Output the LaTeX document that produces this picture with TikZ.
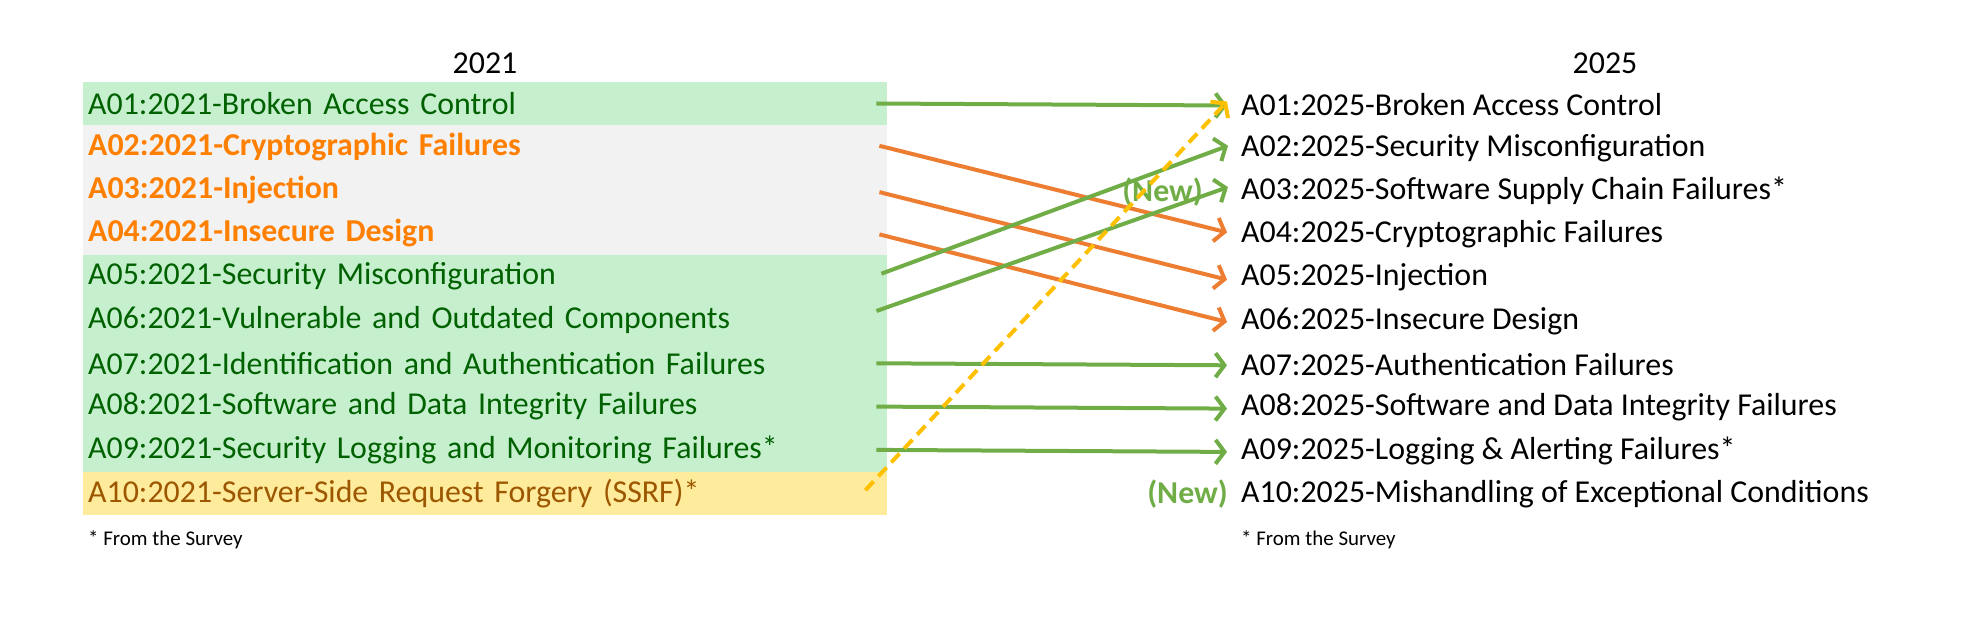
\documentclass[tikz,border=0pt]{standalone}
\usepackage{fontspec}
\setmainfont{Carlito}
\usetikzlibrary{arrows.meta}
\definecolor{gbox}{HTML}{C6EFCE}\definecolor{gtext}{HTML}{006100}
\definecolor{graybox}{HTML}{F2F2F2}\definecolor{otext}{HTML}{FF7F00}
\definecolor{ybox}{HTML}{FFEB9C}\definecolor{ytext}{HTML}{9C5700}
\definecolor{garr}{HTML}{70AD47}\definecolor{oarr}{HTML}{ED7D31}\definecolor{yarr}{HTML}{FFC000}
\begin{document}
\begin{tikzpicture}[x=1bp,y=-1bp,
  row/.style={anchor=west,text width=794bp,align=left,inner xsep=5bp,inner ysep=0pt,minimum height=43.3bp,font=\fontsize{32}{36}\selectfont},
  greenrow/.style={row,fill=gbox,text=gtext},
  orow/.style={row,fill=graybox,text=otext,font=\fontsize{32}{36}\selectfont\bfseries},
  yrow/.style={row,fill=ybox,text=ytext},
  rrow/.style={anchor=west,inner sep=0pt,font=\fontsize{32}{36}\selectfont},
  newl/.style={anchor=east,inner sep=0pt,text=garr,font=\fontsize{32}{36}\selectfont\bfseries},
  arr/.style={line width=4bp,-{Straight Barb[length=9bp,width=24bp,line width=4bp]}},
  ga/.style={arr,draw=garr},oa/.style={arr,draw=oarr},
  ya/.style={arr,draw=yarr,dash pattern=on 12bp off 7bp}]
\useasboundingbox (0,0) rectangle (1976,617);
\node[font=\fontsize{32}{36}\selectfont] (h1) at (485,63) {2021};
\node[font=\fontsize{32}{36}\selectfont] (h2) at (1605,63) {2025};
\node[greenrow] (L1) at (83,103.5) {A01:2021-Broken Access Control};
\node[orow] (L2) at (83,146.8) {A02:2021-Cryptographic Failures};
\node[orow] (L3) at (83,190.1) {A03:2021-Injection};
\node[orow] (L4) at (83,233.4) {A04:2021-Insecure Design};
\node[greenrow] (L5) at (83,276.7) {A05:2021-Security Misconfiguration};
\node[greenrow] (L6) at (83,320) {A06:2021-Vulnerable and Outdated Components};
\node[greenrow] (L7) at (83,363.3) {A07:2021-Identification and Authentication Failures};
\node[greenrow] (L8) at (83,406.6) {A08:2021-Software and Data Integrity Failures};
\node[greenrow] (L9) at (83,449.9) {A09:2021-Security Logging and Monitoring Failures*};
\node[yrow] (L10) at (83,493.2) {A10:2021-Server-Side Request Forgery (SSRF)*};
\node[anchor=west,inner sep=0pt,font=\fontsize{21}{24}\selectfont] (f1) at (88,540) {* From the Survey};
\node[rrow] (R1) at (1241,104.5) {A01:2025-Broken Access Control};
\node[rrow] (R2) at (1241,147.8) {A02:2025-Security Misconfiguration};
\node[rrow] (R3) at (1241,191.1) {A03:2025-Software Supply Chain Failures*};
\node[rrow] (R4) at (1241,234.4) {A04:2025-Cryptographic Failures};
\node[rrow] (R5) at (1241,277.7) {A05:2025-Injection};
\node[rrow] (R6) at (1241,321) {A06:2025-Insecure Design};
\node[rrow] (R7) at (1241,364.3) {A07:2025-Authentication Failures};
\node[rrow] (R8) at (1241,407.6) {A08:2025-Software and Data Integrity Failures};
\node[rrow] (R9) at (1241,450.9) {A09:2025-Logging \& Alerting Failures*};
\node[rrow] (R10) at (1241,494.2) {A10:2025-Mishandling of Exceptional Conditions};
\node[anchor=west,inner sep=0pt,font=\fontsize{21}{24}\selectfont] (f2) at (1241,540) {* From the Survey};
\node[newl] (n3) at (1203,192) {(New)};
\node[newl] (n10) at (1228,494.2) {(New)};
\draw[ga] ([xshift=-11bp]L1.east) -- ([xshift=-14bp,yshift=-1bp]R1.west);
\draw[oa] ([xshift=-8bp,yshift=1bp]L2.east) -- ([xshift=-14bp,yshift=2bp]R4.west);
\draw[oa] ([xshift=-8bp,yshift=-2bp]L3.east) -- ([xshift=-14bp,yshift=-2bp]R5.west);
\draw[oa] ([xshift=-8bp,yshift=-1bp]L4.east) -- ([xshift=-14bp,yshift=-1bp]R6.west);
\draw[ga] ([xshift=-6bp,yshift=3bp]L5.east) -- ([xshift=-13bp,yshift=2bp]R2.west);
\draw[ga] ([xshift=-11bp,yshift=9bp]L6.east) -- ([xshift=-13bp,yshift=4bp]R3.west);
\draw[ga] ([xshift=-11bp]L7.east) -- ([xshift=-14bp,yshift=-1bp]R7.west);
\draw[ga] ([xshift=-11bp]L8.east) -- ([xshift=-14bp,yshift=-1bp]R8.west);
\draw[ga] ([xshift=-11bp]L9.east) -- ([xshift=-14bp,yshift=-1bp]R9.west);
\draw[ya] ([xshift=-22bp,yshift=3bp]L10.east) -- ([xshift=-14bp,yshift=3bp]R1.west);
\end{tikzpicture}
\end{document}
